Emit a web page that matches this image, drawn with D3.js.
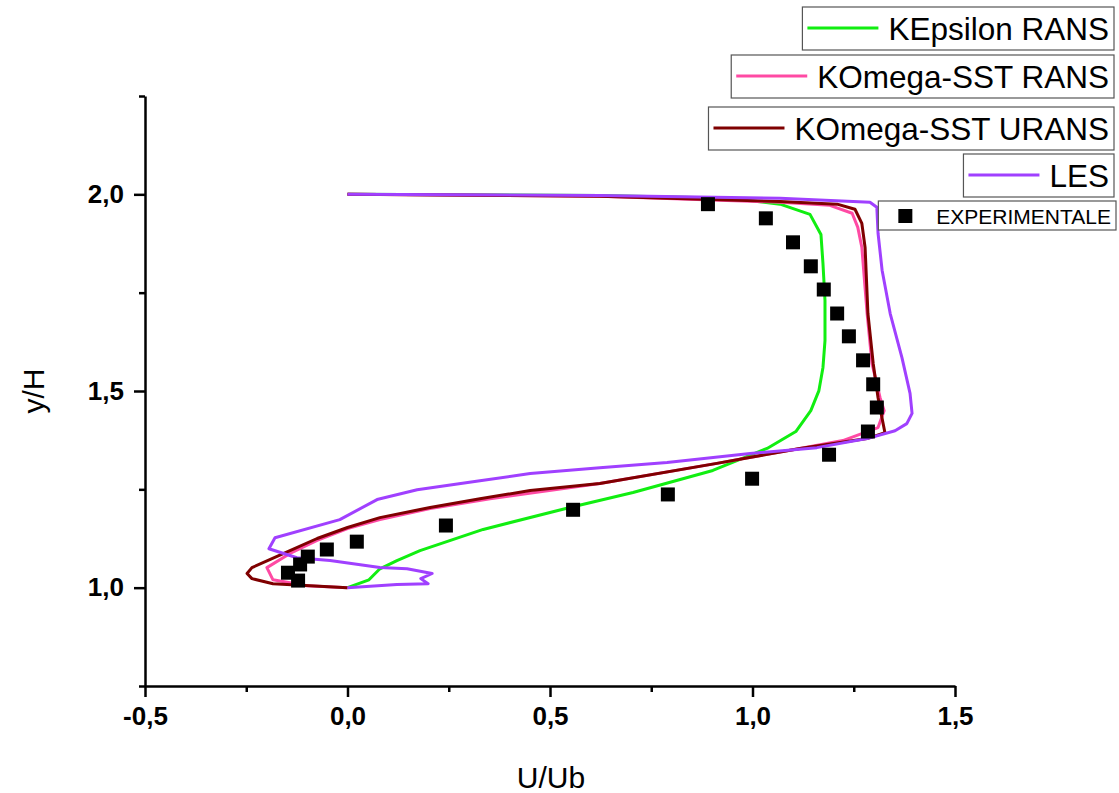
<!DOCTYPE html>
<html>
<head>
<meta charset="utf-8">
<script src="https://cdn.jsdelivr.net/npm/d3@7"></script>
<style>
  html, body { margin: 0; padding: 0; background: #fff; }
  svg { display: block; font-family: "Liberation Sans", Arial, sans-serif; }
</style>
</head>
<body>
<svg id="chart" width="1119" height="793"></svg>
<script>
// Velocity profiles U/Ub against y/H
const kEpsilonU = [0, 0.623, 0.944, 1.068, 1.142, 1.169, 1.174, 1.179, 1.179, 1.174, 1.164, 1.144, 1.107, 1.036, 0.902, 0.705, 0.549, 0.335, 0.179, 0.122, 0.080, 0.053, 0];
const kEpsilonY = [2.0, 1.997, 1.990, 1.975, 1.949, 1.898, 1.824, 1.730, 1.628, 1.560, 1.501, 1.450, 1.397, 1.354, 1.298, 1.242, 1.204, 1.148, 1.094, 1.069, 1.048, 1.020, 1.0];

const sstRansU = [0, 0.623, 1.068, 1.191, 1.246, 1.260, 1.270, 1.283, 1.295, 1.315, 1.325, 1.310, 1.223, 1.117, 0.912, 0.623, 0.352, 0.204, 0.080, 0, -0.075, -0.142, -0.199, -0.184, -0.100, 0];
const sstRansY = [2.0, 1.995, 1.980, 1.972, 1.952, 1.916, 1.865, 1.697, 1.570, 1.483, 1.450, 1.407, 1.374, 1.354, 1.316, 1.265, 1.226, 1.201, 1.173, 1.150, 1.120, 1.087, 1.051, 1.020, 1.005, 1.0];

const sstUransU = [0, 0.623, 1.068, 1.209, 1.253, 1.270, 1.278, 1.285, 1.298, 1.310, 1.327, 1.283, 1.117, 0.912, 0.623, 0.451, 0.327, 0.204, 0.080, 0, -0.075, -0.142, -0.236, -0.248, -0.236, -0.184, 0];
const sstUransY = [2.0, 1.995, 1.982, 1.975, 1.962, 1.926, 1.865, 1.697, 1.570, 1.483, 1.394, 1.379, 1.354, 1.316, 1.265, 1.247, 1.226, 1.204, 1.178, 1.153, 1.125, 1.094, 1.051, 1.036, 1.023, 1.010, 1.0];

const lesU = [0, 0.623, 1.068, 1.290, 1.307, 1.310, 1.320, 1.340, 1.369, 1.389, 1.394, 1.381, 1.352, 1.283, 1.159, 0.994, 0.789, 0.623, 0.451, 0.327, 0.172, 0.073, -0.019, -0.179, -0.194, -0.125, -0.043, 0.080, 0.147, 0.209, 0.181, 0.199, 0.122, 0];
const lesY = [2.0, 1.997, 1.990, 1.980, 1.967, 1.901, 1.807, 1.697, 1.585, 1.494, 1.443, 1.417, 1.399, 1.379, 1.356, 1.341, 1.318, 1.305, 1.290, 1.272, 1.249, 1.224, 1.173, 1.127, 1.099, 1.076, 1.069, 1.051, 1.048, 1.036, 1.023, 1.010, 1.008, 1.0];

const expU = [0.890, 1.033, 1.100, 1.144, 1.176, 1.209, 1.238, 1.273, 1.298, 1.307, 1.285, 1.189, 0.999, 0.791, 0.557, 0.243, 0.023, -0.051, -0.098, -0.117, -0.147, -0.122];
const expY = [1.975, 1.939, 1.878, 1.817, 1.758, 1.697, 1.639, 1.578, 1.517, 1.458, 1.397, 1.338, 1.277, 1.237, 1.198, 1.158, 1.117, 1.097, 1.079, 1.059, 1.038, 1.018];

const xTicks = [-0.5, 0, 0.5, 1.0, 1.5];
const xMinorTicks = [-0.25, 0.25, 0.75, 1.25];
const yTicks = [1.0, 1.5, 2.0];
const yMinorTicks = [0.75, 1.25, 1.75, 2.25];

const seriesNames = ["KEpsilon RANS", "KOmega-SST RANS", "KOmega-SST URANS", "LES"];
const seriesColors = ["#11ee11", "#ff4aa4", "#7f0000", "#a040ff"];
const expName = "EXPERIMENTALE";

const svg = d3.select("#chart");
const x = d3.scaleLinear().domain([-0.5, 1.5]).range([145, 955]);
const y = d3.scaleLinear().domain([0.75, 2.25]).range([686, 96]);
// decimal comma, plain hyphen for negatives
const fmt = d => d3.format(".1f")(d).replace(".", ",").replace("\u2212", "-");

// curves
const series = [
  d3.zip(kEpsilonU, kEpsilonY),
  d3.zip(sstRansU, sstRansY),
  d3.zip(sstUransU, sstUransY),
  d3.zip(lesU, lesY)
];
const line = d3.line().x(d => x(d[0])).y(d => y(d[1]));
const plot = svg.append("g");
series.forEach((pts, i) => {
  plot.append("path")
    .attr("d", line(pts))
    .attr("fill", "none")
    .attr("stroke", seriesColors[i])
    .attr("stroke-width", 3)
    .attr("stroke-linejoin", "round");
});

// experimental squares
const sq = 14;
plot.selectAll("rect.exp")
  .data(d3.zip(expU, expY))
  .join("rect")
  .attr("class", "exp")
  .attr("x", d => x(d[0]) - sq / 2)
  .attr("y", d => y(d[1]) - sq / 2)
  .attr("width", sq)
  .attr("height", sq)
  .attr("fill", "#000");

// axes
function styleAxis(g) {
  g.attr("font-size", null).attr("font-family", null);
  g.selectAll("path.domain").attr("stroke", "#000").attr("stroke-width", 2.5);
  g.selectAll(".tick line").attr("stroke", "#000").attr("stroke-width", 2.5);
  g.selectAll(".tick text")
    .attr("fill", "#000")
    .style("font-size", "26px")
    .style("font-weight", "bold")
    .style("font-family", "'Liberation Sans', Arial, sans-serif");
}

const xAxisMinor = svg.append("g").attr("transform", "translate(0,686)")
  .call(d3.axisBottom(x).tickValues(xMinorTicks).tickSize(6).tickSizeOuter(0).tickFormat(""));
styleAxis(xAxisMinor);
xAxisMinor.select("path.domain").remove();

const yAxisMinor = svg.append("g").attr("transform", "translate(145,0)")
  .call(d3.axisLeft(y).tickValues(yMinorTicks).tickSize(6).tickSizeOuter(0).tickFormat(""));
styleAxis(yAxisMinor);
yAxisMinor.select("path.domain").remove();

const xAxis = svg.append("g").attr("transform", "translate(0,686)")
  .call(d3.axisBottom(x).tickValues(xTicks).tickSize(11).tickSizeOuter(0).tickPadding(10).tickFormat(fmt));
styleAxis(xAxis);

const yAxis = svg.append("g").attr("transform", "translate(145,0)")
  .call(d3.axisLeft(y).tickValues(yTicks).tickSize(11).tickSizeOuter(0).tickPadding(10).tickFormat(fmt));
styleAxis(yAxis);

// axis titles
svg.append("text")
  .attr("x", 551).attr("y", 788)
  .attr("text-anchor", "middle")
  .style("font-size", "30px")
  .text("U/Ub");

svg.append("text")
  .attr("transform", "translate(44,391) rotate(-90)")
  .attr("text-anchor", "middle")
  .style("font-size", "30px")
  .text("y/H");

// legend: one boxed entry per series, right-aligned
const legendRight = 1114;
const legendEntries = [
  { name: seriesNames[0], color: seriesColors[0], top: 7 },
  { name: seriesNames[1], color: seriesColors[1], top: 55 },
  { name: seriesNames[2], color: seriesColors[2], top: 107 },
  { name: seriesNames[3], color: seriesColors[3], top: 154 }
];
legendEntries.forEach(e => {
  const g = svg.append("g");
  const t = g.append("text")
    .attr("y", e.top + 33)
    .style("font-size", "31.5px")
    .attr("fill", "#000")
    .text(e.name);
  const w = t.node().getComputedTextLength();
  const boxW = w + 86 + 5;
  const bx = legendRight - boxW;
  g.insert("rect", "text")
    .attr("x", bx).attr("y", e.top)
    .attr("width", boxW).attr("height", 43)
    .attr("fill", "#fff")
    .attr("stroke", "#555").attr("stroke-width", 1.2);
  g.append("line")
    .attr("x1", bx + 5).attr("x2", bx + 76)
    .attr("y1", e.top + 21).attr("y2", e.top + 21)
    .attr("stroke", e.color).attr("stroke-width", 3);
  t.attr("x", bx + 86);
});

// experimental legend entry
{
  const g = svg.append("g");
  const top = 201;
  const t = g.append("text")
    .attr("y", top + 23)
    .style("font-size", "21px")
    .attr("fill", "#000")
    .text(expName);
  const w = t.node().getComputedTextLength();
  const boxW = w + 58 + 5;
  const bx = legendRight + 2 - boxW;
  g.insert("rect", "text")
    .attr("x", bx).attr("y", top)
    .attr("width", boxW).attr("height", 29)
    .attr("fill", "#fff")
    .attr("stroke", "#555").attr("stroke-width", 1.2);
  g.append("rect")
    .attr("x", bx + 20).attr("y", top + 8)
    .attr("width", sq).attr("height", sq)
    .attr("fill", "#000");
  t.attr("x", bx + 58);
}
</script>
</body>
</html>
